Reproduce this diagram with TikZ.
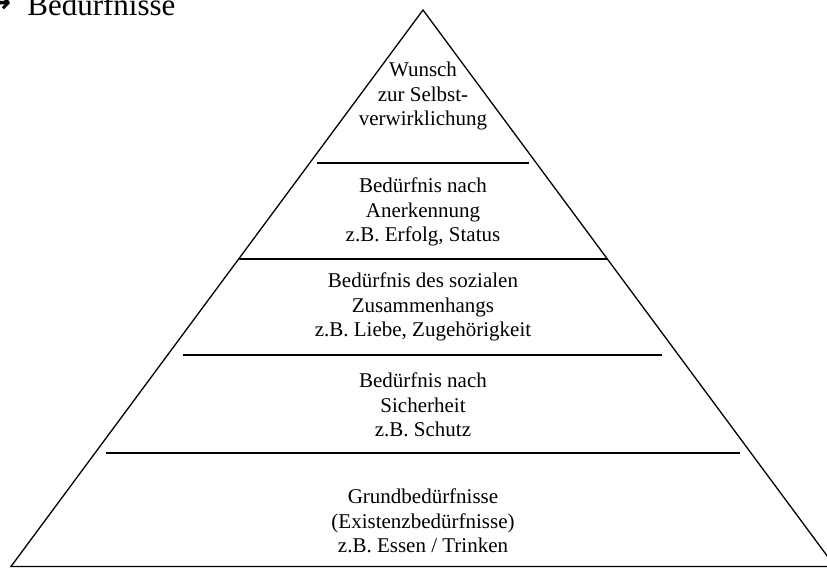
\documentclass[tikz,border=0pt]{standalone}
\usepackage{fontspec}
\setmainfont{Liberation Serif}
\newfontfamily\arrowfont{DejaVu Sans}
\begin{document}
\begin{tikzpicture}[x=1pt,y=-1pt,
  edge/.style={line width=1.3pt,black},
  level/.style={line width=2pt,black},
  label/.style={align=center,inner sep=0pt,font=\fontsize{21}{24.5}\selectfont}]
\useasboundingbox (0,0) rectangle (827,568);
\clip (0,0) rectangle (827,568);
% pyramid
\coordinate (apex) at (423,10);
\coordinate (bl) at (11,566.5);
\coordinate (br) at (835,566.5);
\draw[edge,line join=miter] (bl) -- (apex) -- (br) -- cycle;
% level lines
\coordinate (l1a) at (317,163); \coordinate (l1b) at (529,163);
\coordinate (l2a) at (239,259); \coordinate (l2b) at (608,259);
\coordinate (l3a) at (183,355); \coordinate (l3b) at (662,355);
\coordinate (l4a) at (106,453); \coordinate (l4b) at (740,453);
\draw[level] (l1a) -- (l1b);
\draw[level] (l2a) -- (l2b);
\draw[level] (l3a) -- (l3b);
\draw[level] (l4a) -- (l4b);
% texts
\node[label] (t1) at (423,96) {Wunsch\\zur Selbst-\\verwirklichung};
\node[label] (t2) at (423,212) {Bedürfnis nach\\Anerkennung\\z.B. Erfolg, Status};
\node[label] (t3) at (423,307) {Bedürfnis des sozialen\\Zusammenhangs\\z.B. Liebe, Zugehörigkeit};
\node[label] (t4) at (423,405) {Bedürfnis nach\\Sicherheit\\z.B. Schutz};
\node[label] (t5) at (423,521) {Grundbedürfnisse\\(Existenzbedürfnisse)\\z.B. Essen / Trinken};
% title
\node[anchor=base west,inner sep=0pt,font=\fontsize{31}{36}\selectfont] (title) at (-14,15) {\raisebox{3pt}{\arrowfont\bfseries\fontsize{30}{30}\selectfont →}\hspace{16pt}Bedürfnisse};
\end{tikzpicture}
\end{document}
